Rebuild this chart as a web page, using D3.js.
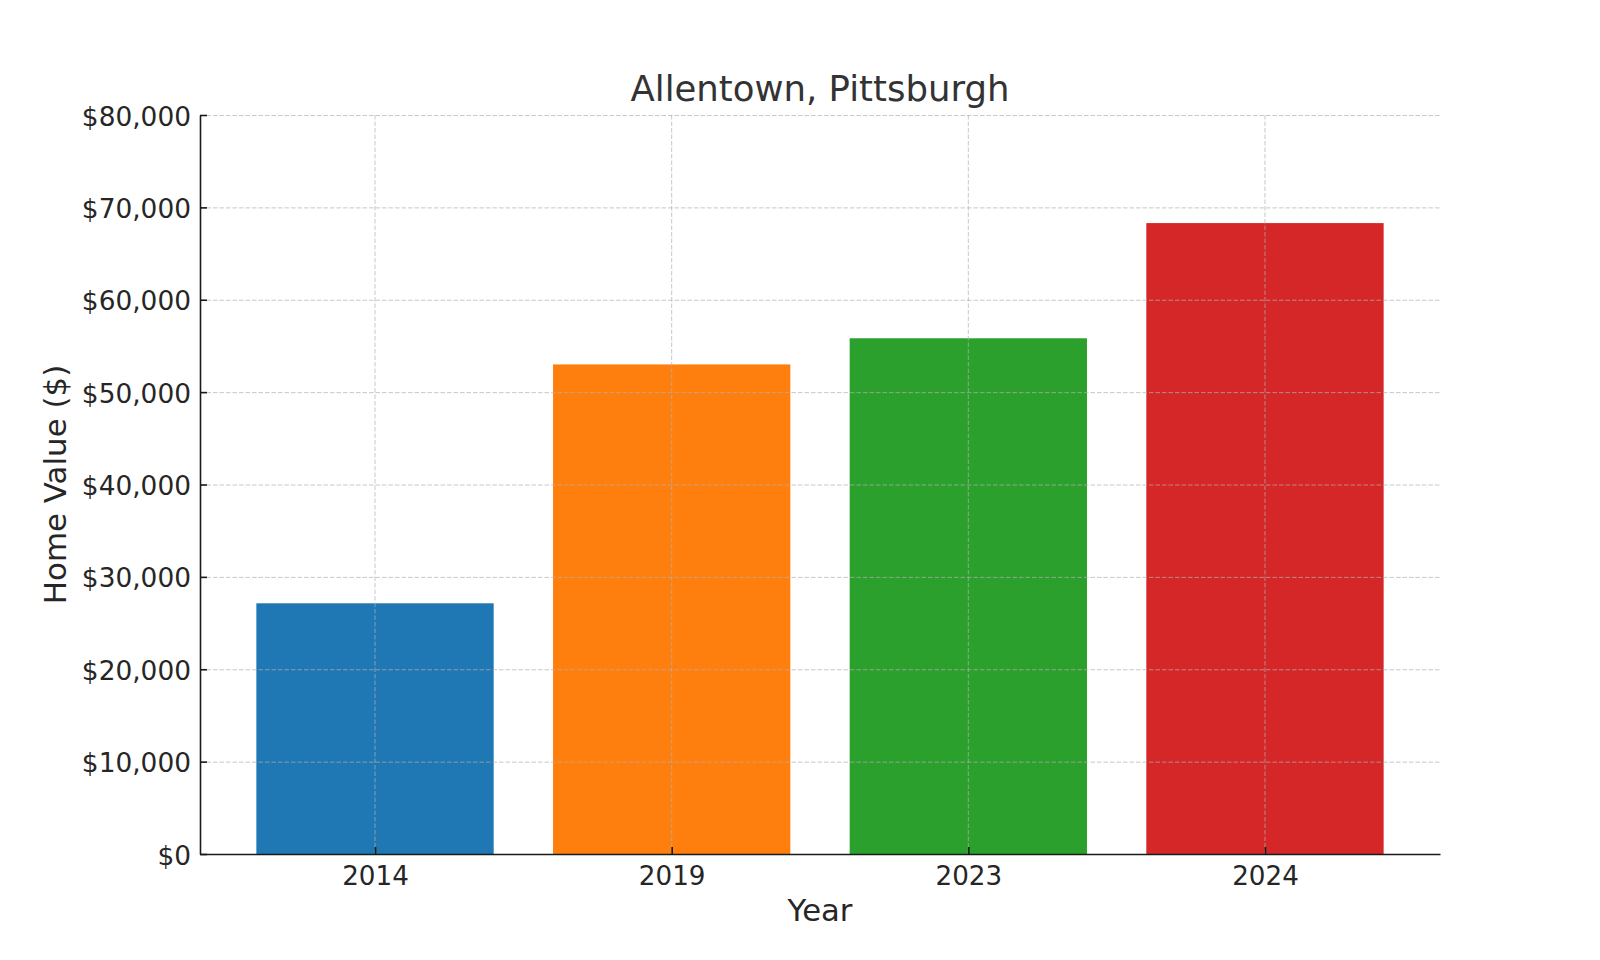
<!DOCTYPE html>
<html>
<head>
<meta charset="utf-8">
<script src="https://cdn.jsdelivr.net/npm/d3@7"></script>
<style>
  html, body { margin: 0; padding: 0; background: #fff; }
  svg { display: block; font-family: "DejaVu Sans", sans-serif; }
</style>
</head>
<body>
<svg id="chart" width="1600" height="960"></svg>
<script>
const title = "Allentown, Pittsburgh";
const xLabel = "Year";
const yLabel = "Home Value ($)";
const categories = ["2014", "2019", "2023", "2024"];
const values = [27140, 53000, 55830, 68300];
const colors = ["#1f77b4", "#ff7f0e", "#2ca02c", "#d62728"];
const yTicks = [0, 10000, 20000, 30000, 40000, 50000, 60000, 70000, 80000];

const svg = d3.select("#chart");
const mLeft = 200, mRight = 1440, mTop = 115, mBottom = 854;

// linear x scale emulating matplotlib: bar width 0.8, 5% margins
const n = categories.length;
const x = d3.scaleLinear().domain([-0.59, n - 1 + 0.59]).range([mLeft, mRight]);
const y = d3.scaleLinear().domain([0, 80000]).range([mBottom, mTop]);
const fmt = v => "$" + d3.format(",")(v);

// bars
svg.append("g").selectAll("rect").data(values).join("rect")
  .attr("x", (d, i) => x(i - 0.4))
  .attr("width", (d, i) => x(i + 0.4) - x(i - 0.4))
  .attr("y", d => y(d))
  .attr("height", d => y(0) - y(d))
  .attr("fill", (d, i) => colors[i]);

// grid (drawn over bars)
const grid = svg.append("g").attr("stroke", "#b0b0b0").attr("stroke-opacity", 0.7)
  .attr("stroke-width", 1).attr("stroke-dasharray", "4.5,2").attr("fill", "none");
grid.selectAll("line.h").data(yTicks).join("line").attr("class", "h")
  .attr("x1", mLeft).attr("x2", mRight)
  .attr("y1", d => y(d) + 0.5).attr("y2", d => y(d) + 0.5);
grid.selectAll("line.v").data(categories).join("line").attr("class", "v")
  .attr("x1", (d, i) => x(i)).attr("x2", (d, i) => x(i))
  .attr("y1", mTop).attr("y2", mBottom);

// y axis
const yAxis = d3.axisLeft(y).tickValues(yTicks).tickFormat(fmt).tickSizeInner(-7).tickSizeOuter(0).tickPadding(9);
const gy = svg.append("g").attr("transform", `translate(${mLeft},0)`).call(yAxis);
gy.select(".domain").attr("stroke", "#1a1a1a").attr("stroke-width", 1.6);
gy.selectAll(".tick line").attr("stroke", "#1a1a1a").attr("stroke-width", 1.6);
gy.selectAll(".tick text").attr("font-size", 26.4).attr("fill", "#262626")
  .attr("font-family", "DejaVu Sans").attr("dy", "0.38em");

// x axis
const xAxis = d3.axisBottom(x).tickValues(d3.range(n)).tickFormat(i => categories[i]).tickSizeInner(-7).tickSizeOuter(0).tickPadding(12);
const gx = svg.append("g").attr("transform", `translate(0,${mBottom})`).call(xAxis);
gx.select(".domain").attr("stroke", "#1a1a1a").attr("stroke-width", 1.6);
gx.selectAll(".tick line").attr("stroke", "#1a1a1a").attr("stroke-width", 1.6);
gx.selectAll(".tick text").attr("font-size", 26.2).attr("fill", "#262626")
  .attr("font-family", "DejaVu Sans");

// title
svg.append("text").attr("x", (mLeft + mRight) / 2).attr("y", 101)
  .attr("text-anchor", "middle").attr("font-size", 35.5).attr("fill", "#333333")
  .text(title);

// axis labels
svg.append("text").attr("x", (mLeft + mRight) / 2).attr("y", 921)
  .attr("text-anchor", "middle").attr("font-size", 30.7).attr("fill", "#262626")
  .text(xLabel);
svg.append("text").attr("transform", `translate(66,${(mTop + mBottom) / 2}) rotate(-90)`)
  .attr("text-anchor", "middle").attr("font-size", 30.9).attr("fill", "#262626")
  .text(yLabel);
</script>
</body>
</html>
